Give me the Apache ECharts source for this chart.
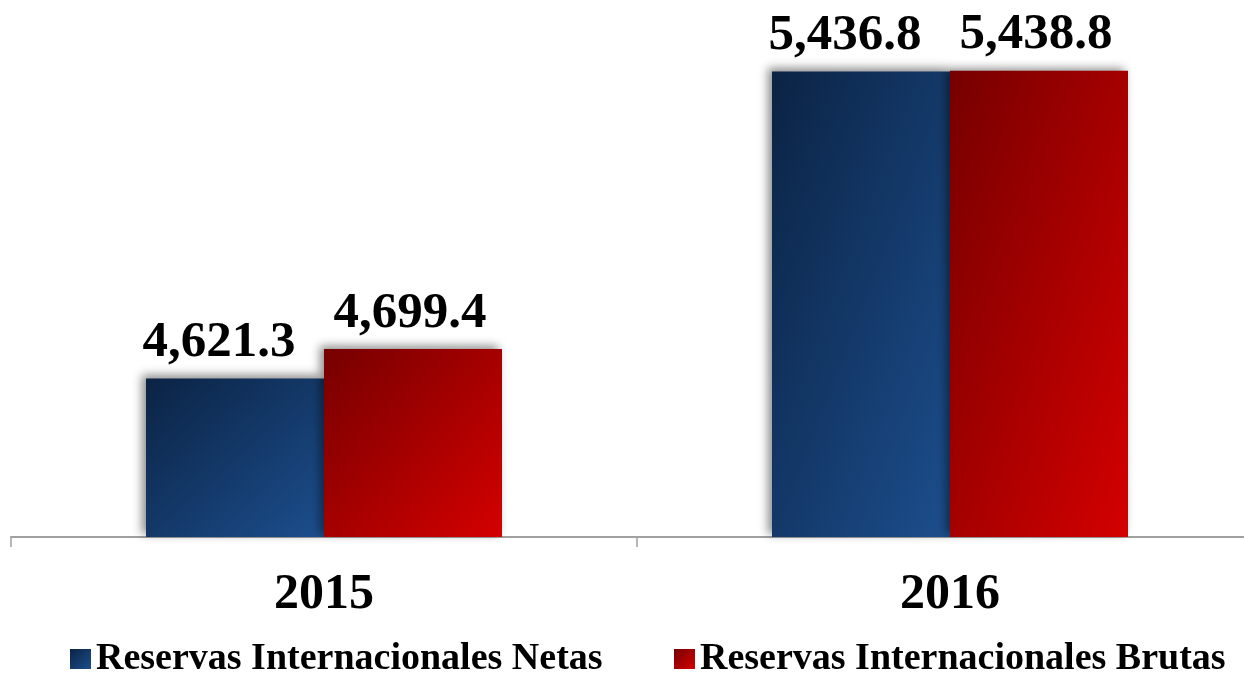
<!DOCTYPE html>
<html>
<head>
<meta charset="utf-8">
<script src="https://cdn.jsdelivr.net/npm/echarts@6/dist/echarts.min.js"></script>
<style>
  html, body { margin: 0; padding: 0; background: #fff; }
  #chart { width: 1244px; height: 673px; }
</style>
</head>
<body>
<div id="chart"></div>
<script>
// 年份
const years = ["2015", "2016"];
// 两个系列
const seriesNames = ["Reservas Internacionales Netas", "Reservas Internacionales Brutas"];
const netas = [4621.3, 5436.8];
const brutas = [4699.4, 5438.8];

const serif = "'Liberation Serif', 'Times New Roman', serif";
const Y_MIN = 4200;
const Y_MAX = 5600;
const BAR_W = 178;

function fmt(v) {
  return v.toLocaleString("en-US", { minimumFractionDigits: 1, maximumFractionDigits: 1 });
}

// 斜向渐变（类似Office的对角渐变，等色线沿反对角线），w/h 为柱子像素尺寸
function diagGrad(w, h, c0, c1) {
  const t = (2 * w * h) / (w * w + h * h);
  return new echarts.graphic.LinearGradient(0, 0, (t * h) / w, (t * w) / h, [
    { offset: 0, color: c0 },
    { offset: 1, color: c1 },
  ]);
}
const blueStops = ["#0b2344", "#1c4e8d"];
const redStops = ["#760000", "#d40000"];

const barStyle = {
  shadowColor: "rgba(0,0,0,0.45)",
  shadowBlur: 9,
  shadowOffsetX: -4,
  shadowOffsetY: -3,
};

function labelStyle(dx) {
  return {
    show: true,
    position: "top",
    distance: 10,
    offset: [dx, 0],
    fontFamily: serif,
    fontWeight: "bold",
    fontSize: 51,
    color: "#000",
    formatter: (p) => fmt(p.value),
  };
}

const legendText = {
  fontFamily: serif,
  fontWeight: "bold",
  fontSize: 38,
  color: "#000",
};

const chart = echarts.init(document.getElementById("chart"));
chart.setOption({
  animation: false,
  backgroundColor: "#fff",
  // 坐标轴右端超出画布
  grid: { left: 11, width: 1252, top: 10, bottom: 136, containLabel: false, outerBoundsMode: "none" },
  legend: [
    {
      left: 65,
      top: 635,
      itemWidth: 21,
      itemHeight: 20,
      icon: "rect",
      itemStyle: { color: diagGrad(21, 20, blueStops[0], blueStops[1]), shadowBlur: 0, shadowOffsetX: 0, shadowOffsetY: 0 },
      textStyle: legendText,
      data: [seriesNames[0]],
    },
    {
      left: 669,
      top: 635,
      itemWidth: 21,
      itemHeight: 20,
      icon: "rect",
      itemStyle: { color: diagGrad(21, 20, redStops[0], redStops[1]), shadowBlur: 0, shadowOffsetX: 0, shadowOffsetY: 0 },
      textStyle: legendText,
      data: [seriesNames[1]],
    },
  ],
  xAxis: {
    type: "category",
    data: years,
    axisLine: { lineStyle: { color: "#a0a0a0", width: 2 } },
    axisTick: { show: true, length: 10, lineStyle: { color: "#a0a0a0", width: 1.5 } },
    axisLabel: {
      margin: 33,
      fontFamily: serif,
      fontWeight: "bold",
      fontSize: 50,
      color: "#000",
    },
  },
  yAxis: {
    type: "value",
    min: Y_MIN,
    max: Y_MAX,
    interval: 200,
    show: false,
    splitLine: { show: false },
  },
  series: [
    {
      name: seriesNames[0],
      type: "bar",
      data: netas,
      barWidth: BAR_W,
      barGap: "0%",
      itemStyle: Object.assign({ color: blueStops[1] }, barStyle),
      label: labelStyle(-16),
    },
    {
      name: seriesNames[1],
      type: "bar",
      data: brutas,
      barWidth: BAR_W,
      barGap: "0%",
      itemStyle: Object.assign({ color: redStops[1] }, barStyle),
      label: labelStyle(-3),
    },
  ],
});

// 根据柱子实际像素高度设置渐变
const base = chart.convertToPixel({ yAxisIndex: 0 }, Y_MIN);
function withGrad(values, stops) {
  return values.map((v) => {
    const h = base - chart.convertToPixel({ yAxisIndex: 0 }, v);
    return { value: v, itemStyle: { color: diagGrad(BAR_W, h, stops[0], stops[1]) } };
  });
}
chart.setOption({
  series: [
    { data: withGrad(netas, blueStops) },
    { data: withGrad(brutas, redStops) },
  ],
});
</script>
</body>
</html>
